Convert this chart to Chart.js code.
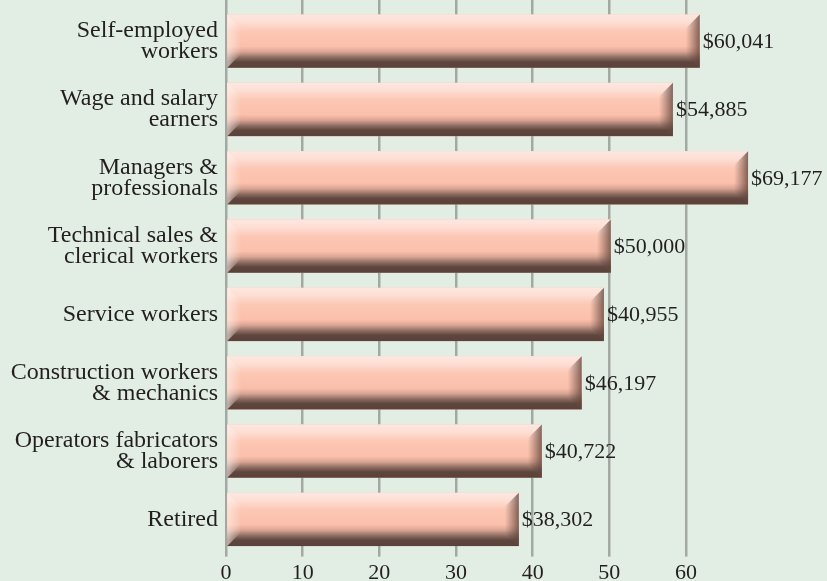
<!DOCTYPE html>
<html>
<head>
<meta charset="utf-8">
<script src="https://cdn.jsdelivr.net/npm/chart.js@4/dist/chart.umd.min.js"></script>
<style>
  html, body { margin: 0; padding: 0; background: #e2eee4; }
  #wrap { width: 827px; height: 581px; position: relative; }
</style>
</head>
<body>
<div id="wrap"><canvas id="income-chart"></canvas></div>
<script>
// Data (bar lengths in thousands, labels as printed)
const categories = [
    ['Self-employed', 'workers'],
    ['Wage and salary', 'earners'],
    ['Managers &', 'professionals'],
    ['Technical sales &', 'clerical workers'],
    'Service workers',
    ['Construction workers', '& mechanics'],
    ['Operators fabricators', '& laborers'],
    'Retired'
];
const barValues = [61.8, 58.3, 68.1, 50.2, 49.3, 46.4, 41.2, 38.2];
const valueLabels = ['$60,041', '$54,885', '$69,177', '$50,000', '$40,955', '$46,197', '$40,722', '$38,302'];
const xTicks = [0, 10, 20, 30, 40, 50, 60];

let colors = {
    text: '#231f20',
    grid: '#a2a9a2',
    salmon: '#fbc2ae'
};

const serif = '"Liberation Serif", "DejaVu Serif", serif';

// Paints the bevelled look on top of each bar and the value label beside it
const bevelPlugin = {
    id: 'bevel',
    afterDatasetsDraw(chart) {
        const ctx = chart.ctx;
        chart.getDatasetMeta(0).data.forEach(function(bar, i) {
            const p = bar.getProps(['x', 'y', 'base', 'height'], true);
            const x0 = p.base, x1 = p.x, y0 = p.y - p.height / 2, y1 = p.y + p.height / 2;
            const b = 14;

            ctx.save();
            // body: light top, salmon middle, dark brown bottom
            let g = ctx.createLinearGradient(0, y0, 0, y1);
            g.addColorStop(0, '#fde7e0');
            g.addColorStop(0.14, '#fddfd4');
            g.addColorStop(0.32, '#fcc7b4');
            g.addColorStop(0.6, '#fbc0ab');
            g.addColorStop(0.7, '#d9a594');
            g.addColorStop(0.81, '#8a6a5f');
            g.addColorStop(0.89, '#5e463e');
            g.addColorStop(1, '#5a423a');
            ctx.fillStyle = g;
            ctx.fillRect(x0, y0, x1 - x0, y1 - y0);

            // left face, lighter
            ctx.beginPath();
            ctx.moveTo(x0, y0);
            ctx.lineTo(x0 + b, y0 + b);
            ctx.lineTo(x0 + b, y1 - b);
            ctx.lineTo(x0, y1);
            ctx.closePath();
            g = ctx.createLinearGradient(x0, 0, x0 + b, 0);
            g.addColorStop(0, 'rgba(255,238,232,0.65)');
            g.addColorStop(1, 'rgba(255,238,232,0)');
            ctx.fillStyle = g;
            ctx.fill();

            // right face, darker
            ctx.beginPath();
            ctx.moveTo(x1, y0);
            ctx.lineTo(x1 - b, y0 + b);
            ctx.lineTo(x1 - b, y1 - b);
            ctx.lineTo(x1, y1);
            ctx.closePath();
            g = ctx.createLinearGradient(x1 - b, 0, x1, 0);
            g.addColorStop(0, 'rgba(110,78,68,0)');
            g.addColorStop(1, 'rgba(100,70,62,0.8)');
            ctx.fillStyle = g;
            ctx.fill();

            // value label
            ctx.fillStyle = colors.text;
            ctx.font = '22px ' + serif;
            ctx.textAlign = 'left';
            ctx.textBaseline = 'middle';
            ctx.fillText(valueLabels[i], x1 + 3, p.y + 1);
            ctx.restore();
        });
    }
};

document.addEventListener('DOMContentLoaded', function() {
    let chartDom = document.getElementById('income-chart').getContext('2d');
    new Chart(chartDom, {
        type: 'bar',
        data: {
            labels: categories,
            datasets: [{
                data: barValues,
                backgroundColor: colors.salmon,
                borderWidth: 0,
                barPercentage: 0.78,
                categoryPercentage: 1
            }]
        },
        options: {
            indexAxis: 'y',
            responsive: true,
            maintainAspectRatio: false,
            animation: false,
            layout: { padding: 0 },
            plugins: {
                legend: { display: false },
                tooltip: { enabled: false }
            },
            scales: {
                x: {
                    position: 'bottom',
                    min: 0,
                    max: 78.4,
                    afterBuildTicks: function(axis) {
                        axis.ticks = xTicks.map(v => ({ value: v }));
                    },
                    afterFit: function(axis) { axis.height = 27.4; },
                    grid: { color: colors.grid, lineWidth: 2.5, tickLength: 3 },
                    border: { display: false },
                    ticks: {
                        padding: 6,
                        color: colors.text,
                        font: { family: serif, size: 22, lineHeight: 1 }
                    }
                },
                xTop: {
                    position: 'top',
                    axis: 'x',
                    min: 0,
                    max: 78.4,
                    afterBuildTicks: function(axis) {
                        axis.ticks = xTicks.map(v => ({ value: v }));
                    },
                    grid: { color: colors.grid, lineWidth: 2.5, tickLength: 7, drawOnChartArea: false },
                    border: { display: false },
                    ticks: { display: false }
                },
                y: {
                    afterFit: function(axis) {
                        axis.width = 226;
                        axis.paddingTop = 0;
                        axis.paddingBottom = 0;
                    },
                    grid: { display: false, drawTicks: false },
                    border: { display: false },
                    ticks: {
                        padding: 8,
                        color: colors.text,
                        font: { family: serif, size: 24, lineHeight: 0.875 }
                    }
                }
            }
        },
        plugins: [bevelPlugin]
    });
});
</script>
</body>
</html>
